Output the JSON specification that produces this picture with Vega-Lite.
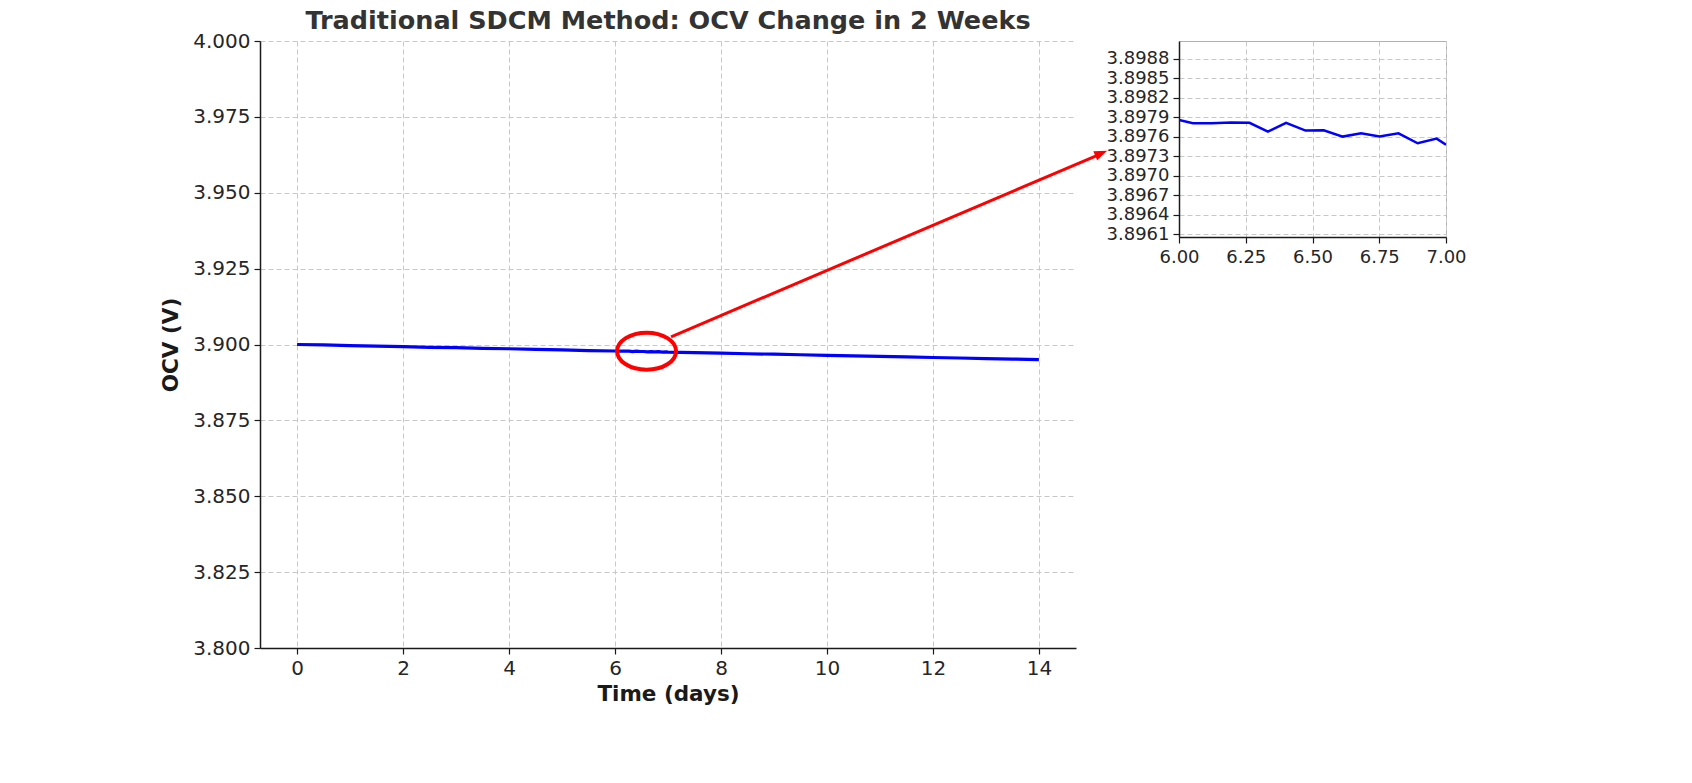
{
  "$schema": "https://vega.github.io/schema/vega-lite/v6.json",
  "background": "white",
  "padding": {"left": 160, "top": 8, "right": 5, "bottom": 5},
  "config": {
    "font": "DejaVu Sans",
    "axis": {
      "labelFont": "DejaVu Sans",
      "titleFont": "DejaVu Sans",
      "labelColor": "#262626",
      "titleColor": "#1a1a1a",
      "domainColor": "#1a1a1a",
      "tickColor": "#1a1a1a",
      "gridColor": "#c8c8c8",
      "gridDash": [5, 3],
      "gridWidth": 1,
      "domainWidth": 1.5,
      "tickWidth": 1.2,
      "tickSize": 6,
      "labelPadding": 4,
      "labelFlush": false
    }
  },
  "datasets": {
    "ocv": [
      {"t": 0, "v": 3.90000},
      {"t": 0.5, "v": 3.89985},
      {"t": 1, "v": 3.89962},
      {"t": 1.5, "v": 3.89948},
      {"t": 2, "v": 3.89930},
      {"t": 2.5, "v": 3.89908},
      {"t": 3, "v": 3.89895},
      {"t": 3.5, "v": 3.89872},
      {"t": 4, "v": 3.89860},
      {"t": 4.5, "v": 3.89838},
      {"t": 5, "v": 3.89823},
      {"t": 5.5, "v": 3.89800},
      {"t": 6.0, "v": 3.897859},
      {"t": 6.052, "v": 3.897808},
      {"t": 6.121, "v": 3.897808},
      {"t": 6.196, "v": 3.897818},
      {"t": 6.264, "v": 3.897813},
      {"t": 6.333, "v": 3.897679},
      {"t": 6.401, "v": 3.897813},
      {"t": 6.474, "v": 3.897694},
      {"t": 6.542, "v": 3.897699},
      {"t": 6.613, "v": 3.897602},
      {"t": 6.682, "v": 3.897653},
      {"t": 6.751, "v": 3.897602},
      {"t": 6.822, "v": 3.897653},
      {"t": 6.894, "v": 3.897499},
      {"t": 6.965, "v": 3.897571},
      {"t": 7.0, "v": 3.897478},
      {"t": 7.5, "v": 3.89730},
      {"t": 8, "v": 3.89715},
      {"t": 8.5, "v": 3.89695},
      {"t": 9, "v": 3.89680},
      {"t": 9.5, "v": 3.89662},
      {"t": 10, "v": 3.89642},
      {"t": 10.5, "v": 3.89628},
      {"t": 11, "v": 3.89608},
      {"t": 11.5, "v": 3.89590},
      {"t": 12, "v": 3.89572},
      {"t": 12.5, "v": 3.89556},
      {"t": 13, "v": 3.89535},
      {"t": 13.5, "v": 3.89520},
      {"t": 14, "v": 3.89500}
    ]
  },
  "hconcat": [
    {
      "width": 816,
      "height": 607,
      "view": {"stroke": null},
      "title": {
        "text": "Traditional SDCM Method: OCV Change in 2 Weeks",
        "fontSize": 25.5,
        "fontWeight": "bold",
        "color": "#333333",
        "anchor": "middle",
        "offset": -3,
        "font": "DejaVu Sans"
      },
      "encoding": {
        "x": {
          "field": "t",
          "type": "quantitative",
          "scale": {"domain": [-0.7, 14.7], "nice": false, "zero": false},
          "axis": {
            "values": [0, 2, 4, 6, 8, 10, 12, 14],
            "format": "d",
            "title": "Time (days)",
            "titleFontSize": 21.5,
            "titleFontWeight": "bold",
            "titlePadding": 5,
            "labelFontSize": 20,
            "grid": true
          }
        },
        "y": {
          "field": "v",
          "type": "quantitative",
          "scale": {"domain": [3.8, 4.0], "nice": false, "zero": false},
          "axis": {
            "values": [3.8, 3.825, 3.85, 3.875, 3.9, 3.925, 3.95, 3.975, 4.0],
            "format": ".3f",
            "title": "OCV (V)",
            "titleFontSize": 21.5,
            "titleFontWeight": "bold",
            "titlePadding": 10,
            "labelFontSize": 20,
            "grid": true
          }
        }
      },
      "layer": [
        {
          "data": {"name": "ocv"},
          "mark": {"type": "line", "color": "#0000ff", "strokeWidth": 3.2}
        },
        {
          "data": {"values": [{"t": 6.596, "v": 3.89778}]},
          "mark": {
            "type": "point",
            "shape": "M-1,0A1,0.627,0,1,1,1,0A1,0.627,0,1,1,-1,0Z",
            "size": 3481,
            "filled": false,
            "stroke": "#ff0000",
            "strokeWidth": 4,
            "opacity": 1
          }
        },
        {
          "data": {"values": [{"t": 7.058, "v": 3.90255, "t2": 15.091, "v2": 3.96224}]},
          "mark": {"type": "rule", "color": "#ff0000", "strokeWidth": 3, "clip": false},
          "encoding": {
            "x2": {"field": "t2"},
            "y2": {"field": "v2"}
          }
        },
        {
          "data": {"values": [{"t": 15.176, "v": 3.9630}]},
          "mark": {
            "type": "point",
            "shape": "M1,0L-1,-0.75L-1,0.75Z",
            "size": 169,
            "filled": true,
            "color": "#ff0000",
            "angle": -23.1,
            "opacity": 1,
            "clip": false
          }
        }
      ]
    },
    {
      "width": 267,
      "height": 196,
      "view": {"stroke": "#b0b0b0", "strokeWidth": 1},
      "data": {"name": "ocv"},
      "transform": [{"filter": "datum.t >= 6 && datum.t <= 7"}],
      "mark": {"type": "line", "color": "#0000ff", "strokeWidth": 2.5, "clip": true},
      "encoding": {
        "x": {
          "field": "t",
          "type": "quantitative",
          "scale": {"domain": [6, 7], "nice": false, "zero": false},
          "axis": {
            "values": [6, 6.25, 6.5, 6.75, 7],
            "format": ".2f",
            "title": null,
            "labelFontSize": 18,
            "labelPadding": 5,
            "grid": true
          }
        },
        "y": {
          "field": "v",
          "type": "quantitative",
          "scale": {"domain": [3.89606, 3.89907], "nice": false, "zero": false},
          "axis": {
            "values": [3.8961, 3.8964, 3.8967, 3.897, 3.8973, 3.8976, 3.8979, 3.8982, 3.8985, 3.8988],
            "format": ".4f",
            "title": null,
            "labelFontSize": 18,
            "grid": true
          }
        }
      }
    }
  ],
  "spacing": 103,
  "bounds": "flush",
  "resolve": {"scale": {"x": "independent", "y": "independent"}}
}
